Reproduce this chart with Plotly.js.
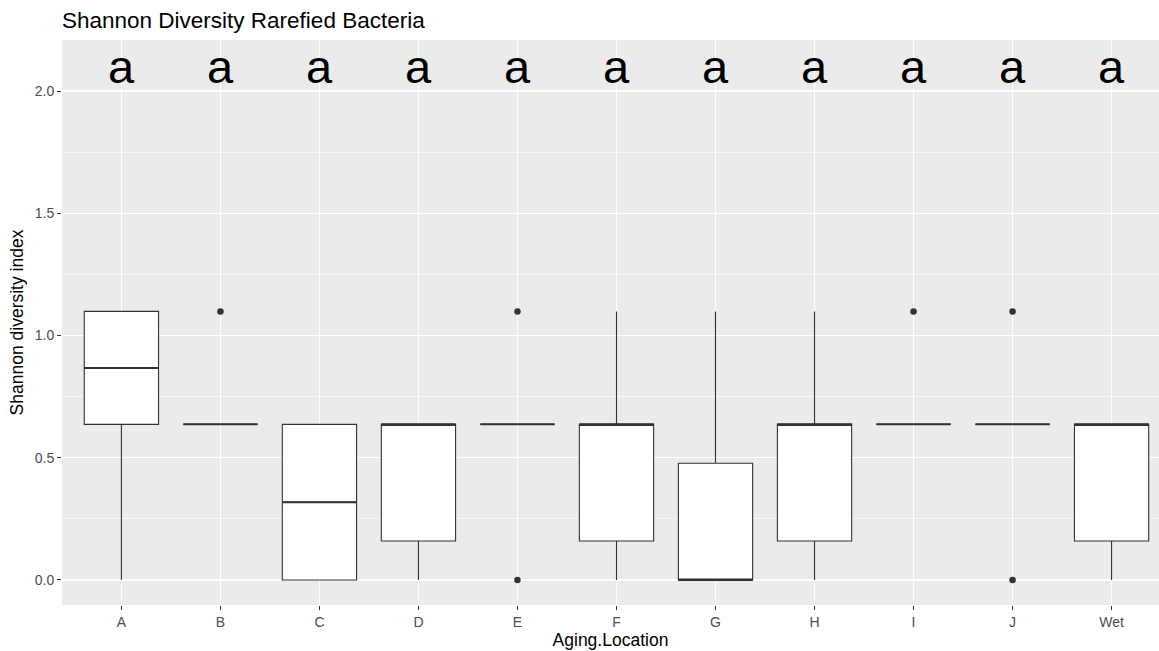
<!DOCTYPE html>
<html>
<head>
<meta charset="utf-8">
<script src="https://cdn.plot.ly/plotly-3.0.1.min.js"></script>
<style>html,body{margin:0;padding:0;background:#fff;}#chart{width:1159px;height:651px;}</style>
</head>
<body>
<div id="chart"></div>
<script>
const categories = ['A','B','C','D','E','F','G','H','I','J','Wet'];
const q1Values     = [0.6365, 0.6365, 0.0,    0.1591, 0.6365, 0.1591, 0.0,    0.1591, 0.6365, 0.6365, 0.1591];
const medianValues = [0.8676, 0.6365, 0.3183, 0.6365, 0.6365, 0.6365, 0.0,    0.6365, 0.6365, 0.6365, 0.6365];
const q3Values     = [1.0986, 0.6365, 0.6365, 0.6365, 0.6365, 0.6365, 0.4774, 0.6365, 0.6365, 0.6365, 0.6365];
const lowerWhisker = [0.0,    0.6365, 0.0,    0.0,    0.6365, 0.0,    0.0,    0.0,    0.6365, 0.6365, 0.0];
const upperWhisker = [1.0986, 0.6365, 0.6365, 0.6365, 0.6365, 1.0986, 1.0986, 1.0986, 0.6365, 0.6365, 0.6365];
const outlierCats   = ['B','E','E','I','J','J'];
const outlierValues = [1.0986, 1.0986, 0.0, 1.0986, 1.0986, 0.0];
const letterLabels = ['a','a','a','a','a','a','a','a','a','a','a'];
const letterY = 2.1;

const boxTrace = {
  type: 'box',
  x: categories,
  q1: q1Values, median: medianValues, q3: q3Values,
  lowerfence: lowerWhisker, upperfence: upperWhisker,
  width: 0.75,
  whiskerwidth: 0,
  fillcolor: '#FFFFFF',
  line: {color: '#333333', width: 1.1},
  boxpoints: false,
  hoverinfo: 'skip',
  showlegend: false
};
// thicker median line (ggplot fatten)
const medianTrace = {
  type: 'box',
  x: categories,
  q1: medianValues, median: medianValues, q3: medianValues,
  lowerfence: medianValues, upperfence: medianValues,
  width: 0.75,
  whiskerwidth: 0,
  fillcolor: 'rgba(0,0,0,0)',
  line: {color: '#333333', width: 2},
  boxpoints: false,
  hoverinfo: 'skip',
  showlegend: false
};
const outlierTrace = {
  type: 'scatter',
  mode: 'markers',
  x: outlierCats,
  y: outlierValues,
  marker: {color: '#333333', size: 6.5},
  hoverinfo: 'skip',
  showlegend: false
};

const annotations = categories.map((c, i) => ({
  x: c, y: letterY, xref: 'x', yref: 'y',
  text: letterLabels[i], showarrow: false,
  xanchor: 'center', yanchor: 'middle',
  font: {family: 'Liberation Sans, Arial, sans-serif', size: 47, color: '#000000'}
}));

const layout = {
  width: 1159, height: 651,
  paper_bgcolor: '#FFFFFF',
  plot_bgcolor: '#EBEBEB',
  font: {family: 'Liberation Sans, Arial, sans-serif', color: '#4D4D4D'},
  margin: {l: 62, r: 0, t: 40, b: 46, pad: 0},
  title: {
    text: 'Shannon Diversity Rarefied Bacteria',
    x: 0, xref: 'paper', xanchor: 'left',
    y: 0.969, yref: 'container', yanchor: 'middle',
    font: {size: 22.5, color: '#000000'}
  },
  xaxis: {
    type: 'category',
    categoryorder: 'array', categoryarray: categories,
    range: [-0.6, 10.479],
    showgrid: true, gridcolor: '#FFFFFF', gridwidth: 1.3,
    zeroline: false, showline: false,
    ticks: 'outside', ticklen: 4, tickwidth: 1, tickcolor: '#333333',
    tickfont: {size: 14, color: '#4D4D4D'},
    title: {text: 'Aging.Location', font: {size: 17.5, color: '#000000'}, standoff: 4}
  },
  yaxis: {
    range: [-0.1025, 2.209],
    tickvals: [0, 0.5, 1, 1.5, 2],
    ticktext: ['0.0', '0.5', '1.0', '1.5', '2.0'],
    showgrid: true, gridcolor: '#FFFFFF', gridwidth: 1.3,
    minor: {tickvals: [0.25, 0.75, 1.25, 1.75], showgrid: true, gridcolor: '#FFFFFF', gridwidth: 0.6, ticks: ''},
    zeroline: false, showline: false,
    ticks: 'outside', ticklen: 4, tickwidth: 1, tickcolor: '#333333',
    tickfont: {size: 14, color: '#4D4D4D'},
    title: {text: 'Shannon diversity index', font: {size: 17.5, color: '#000000'}, standoff: 6}
  },
  annotations: annotations
};

Plotly.newPlot('chart', [boxTrace, medianTrace, outlierTrace], layout, {displayModeBar: false, staticPlot: true});
</script>
</body>
</html>
